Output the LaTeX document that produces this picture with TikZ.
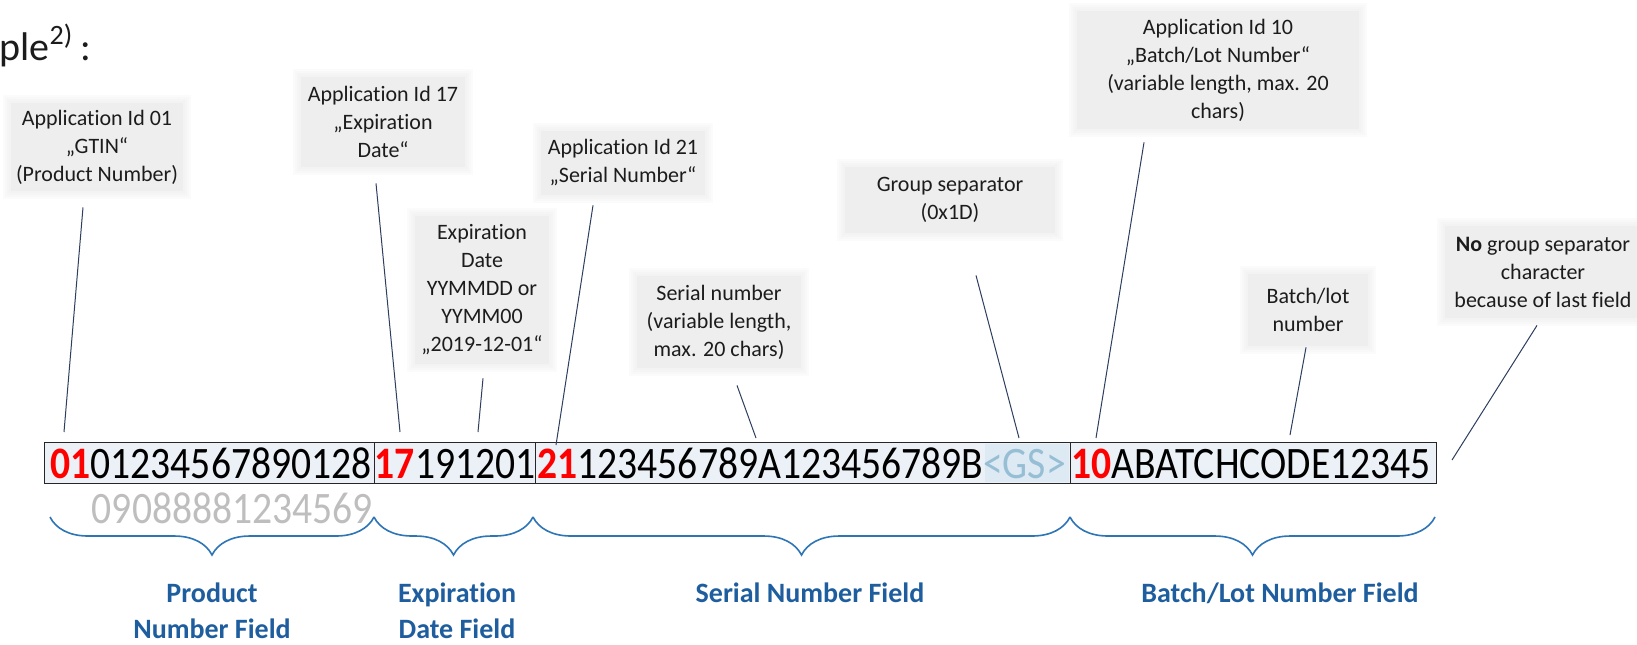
\documentclass[tikz,border=0pt]{standalone}
\usepackage{fontspec}
\setmainfont{Carlito}[Ligatures={NoCommon}]
\newfontfamily\datafont[FakeStretch=0.88, Ligatures={NoCommon}]{Carlito}
\usetikzlibrary{decorations.pathreplacing,backgrounds}

\definecolor{ink}{RGB}{28,28,28}
\definecolor{calloutfill}{RGB}{238,238,238}
\definecolor{leader}{RGB}{45,62,95}
\definecolor{fieldfill}{RGB}{236,241,247}
\definecolor{gsfill}{RGB}{221,233,243}
\definecolor{gsink}{RGB}{150,190,212}
\definecolor{aired}{RGB}{255,0,0}
\definecolor{gtingrey}{RGB}{190,190,190}
\definecolor{bracecol}{RGB}{46,117,182}
\definecolor{fieldlabel}{RGB}{31,94,158}

\tikzset{
  callout/.style={fill=calloutfill, text=ink, align=center, inner sep=0pt,
    font=\fontsize{11}{14}\selectfont},
  leaderline/.style={draw=leader, line width=0.5pt},
  fieldbox/.style={draw=black!85, line width=0.7pt, fill=fieldfill,
    anchor=north west, inner sep=0pt, minimum height=20.5pt},
  datatext/.style={inner sep=0pt, anchor=base west,
    font=\datafont\fontsize{22.5}{27}\selectfont},
  fieldbrace/.style={draw=bracecol, line width=0.8pt, decorate,
    decoration={brace, mirror, amplitude=19pt}},
  fieldname/.style={text=fieldlabel, align=center, inner sep=0pt,
    font=\bfseries\fontsize{14}{18}\selectfont},
}

% soft fading rim around a callout box
\newcommand\softrim[1]{%
  \begin{scope}[on background layer]
    \foreach \m in {1,2,3,4}{%
      \fill[calloutfill, opacity=0.22]
        ([shift={(-\m pt,-\m pt)}]#1.south west) rectangle
        ([shift={(\m pt,\m pt)}]#1.north east);}
  \end{scope}}

\begin{document}
\begin{tikzpicture}[x=0.5pt, y=-0.5pt]
  \begin{scope}[on background layer]
    \fill[white] (0,0) rectangle (1637,644);
  \end{scope}
  \useasboundingbox (0,0) rectangle (1637,644);

  % heading, running off the left edge
  \node[anchor=base west, inner sep=0pt, text=ink, font=\fontsize{20}{24}\selectfont]
    (heading) at (-88,60) {Example\textsuperscript{2)}\,:};

  % callouts
  \node[callout, minimum width=86pt, minimum height=44pt] (gtinid) at (97,147)
    {Application Id 01\\„GTIN“\\(Product Number)};
  \node[callout, minimum width=82pt, minimum height=45pt] (expid) at (383,122)
    {Application Id 17\\„Expiration\\Date“};
  \node[callout, minimum width=67pt, minimum height=74pt] (expval) at (482,290)
    {Expiration\\Date\\YYMMDD or\\YYMM00\\„2019-12-01“};
  \node[callout, minimum width=82pt, minimum height=32pt] (serid) at (623,163)
    {Application Id 21\\„Serial Number“};
  \node[callout, minimum width=82pt, minimum height=46pt] (serval) at (719,322)
    {Serial number\\(variable length,\\max. 20 chars)};
  \node[callout, minimum width=105pt, minimum height=33pt] (gsep) at (950,200)
    {Group separator\\(0x1D)};
  \node[callout, minimum width=141pt, minimum height=59pt] (batchid) at (1218,70)
    {Application Id 10\\„Batch/Lot Number“\\(variable length, max. 20\\chars)};
  \node[callout, minimum width=60pt, minimum height=36pt] (batchval) at (1308,310)
    {Batch/lot\\number};
  \node[callout, minimum width=98pt, minimum height=46pt] (nogs) at (1543,272)
    {\textbf{No} group separator\\character\\because of last field};
  \foreach \c in {gtinid,expid,expval,serid,serval,gsep,batchid,batchval,nogs}{\softrim{\c}}

  % element string, one box per field
  \node[fieldbox, minimum width=165pt] (box1) at (44,442) {};
  \node[fieldbox, minimum width=80.5pt] (box2) at (374,442) {};
  \node[fieldbox, minimum width=267.5pt] (box3) at (535,442) {};
  \node[fieldbox, minimum width=183pt] (box4) at (1070,442) {};
  \fill[gsfill] (985,443.5) rectangle (1069,481.5);

  \node[datatext] (fgtin) at (50,478)
    {\textcolor{aired}{\bfseries 01}01234567890128};
  \node[datatext] (fexp) at (374.5,478)
    {\textcolor{aired}{\bfseries 17}191201};
  \node[datatext] (fser) at (537,478)
    {\textcolor{aired}{\bfseries 21}123456789A123456789B\textcolor{gsink}{<GS>}};
  \node[datatext] (fbatch) at (1071,478)
    {\textcolor{aired}{\bfseries 10}ABATCHCODE12345};
  \node[datatext, text=gtingrey] (gtin13) at (91.5,523.5) {09088881234569};

  % leader end points on the string
  \coordinate (p01) at (64,432);
  \coordinate (p17) at (400,432);
  \coordinate (pdate) at (478,432);
  \coordinate (p21) at (556,445);
  \coordinate (pser) at (756,438);
  \coordinate (pgs) at (1019,438);
  \coordinate (p10) at (1096,438);
  \coordinate (plot) at (1290,435);
  \coordinate (pend) at (1452,460);

  \draw[leaderline] ([shift={(-14,16)}]gtinid.south) -- (p01);
  \draw[leaderline] ([shift={(-7,16)}]expid.south) -- (p17);
  \draw[leaderline] ([shift={(1,14)}]expval.south) -- (pdate);
  \draw[leaderline] ([shift={(-30,10)}]serid.south) -- (p21);
  \draw[leaderline] ([shift={(18,17)}]serval.south) -- (pser);
  \draw[leaderline] ([shift={(26,42)}]gsep.south) -- (pgs);
  \draw[leaderline] ([shift={(-74,13)}]batchid.south) -- (p10);
  \draw[leaderline] ([shift={(-2,1)}]batchval.south) -- (plot);
  \draw[leaderline] ([shift={(-6,7)}]nogs.south) -- (pend);

  % field braces
  \draw[fieldbrace] (50,517) -- (374,517);
  \draw[fieldbrace] (374,517) -- (533,517);
  \draw[fieldbrace] (533,517) -- (1070,517);
  \draw[fieldbrace] (1070,517) -- (1435,517);

  \node[fieldname] (lproduct) at (212,611) {Product\\Number Field};
  \node[fieldname] (lexp) at (457,611) {Expiration\\Date Field};
  \node[fieldname, anchor=base] (lserial) at (810,602) {Serial Number Field};
  \node[fieldname, anchor=base] (lbatch) at (1280,602) {Batch/Lot Number Field};
\end{tikzpicture}
\end{document}
